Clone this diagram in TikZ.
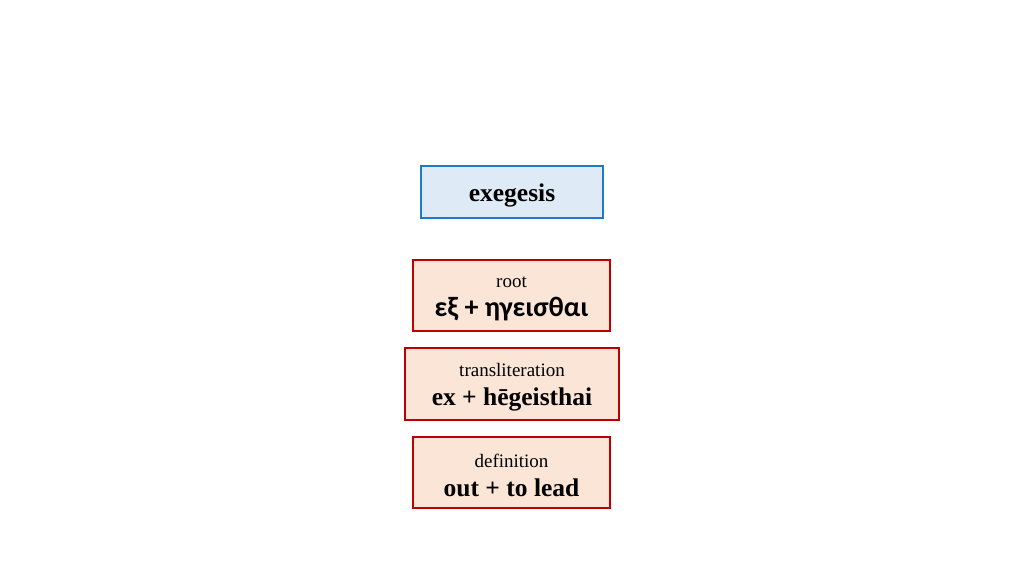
\documentclass[tikz,border=0pt]{standalone}
\usepackage{fontspec}
\setmainfont{Liberation Serif}
\newfontfamily\greekfont{Carlito}
\definecolor{wordline}{HTML}{1F7BC6}
\definecolor{wordfill}{HTML}{DEEBF7}
\definecolor{partline}{HTML}{C00000}
\definecolor{partfill}{HTML}{FBE5D6}
\newcommand{\bigline}{\fontsize{25.5}{29}\selectfont\bfseries}
\newcommand{\lowered}[1]{\raisebox{-3pt}[\height][\depth]{#1}}
\begin{document}
\begin{tikzpicture}[x=1pt,y=1pt,
	word/.style={draw=wordline, fill=wordfill, line width=2pt, minimum width=182pt, minimum height=52pt, inner sep=0pt, font=\bigline},
	part/.style={draw=partline, fill=partfill, line width=2pt, minimum width=197pt, minimum height=71pt, inner sep=0pt, align=center, font=\fontsize{19}{29}\selectfont}]
		\useasboundingbox (0,0) rectangle (1024,576);

		\node[word] (word) at (512,384) {\lowered{exegesis}};

		\node[part] (root) at (511.5,280.5) {\lowered{root}\\\lowered{\greekfont\fontsize{28}{29}\selectfont\bfseries εξ + ηγεισθαι}};
		\node[part, minimum width=214pt, minimum height=72pt] (translit) at (512,192) {\lowered{transliteration}\\\lowered{\bigline ex + hēgeisthai}};
		\node[part] (meaning) at (511.5,103.5) {\lowered{definition}\\\lowered{\bigline out + to lead}};
	\end{tikzpicture}
\end{document}
